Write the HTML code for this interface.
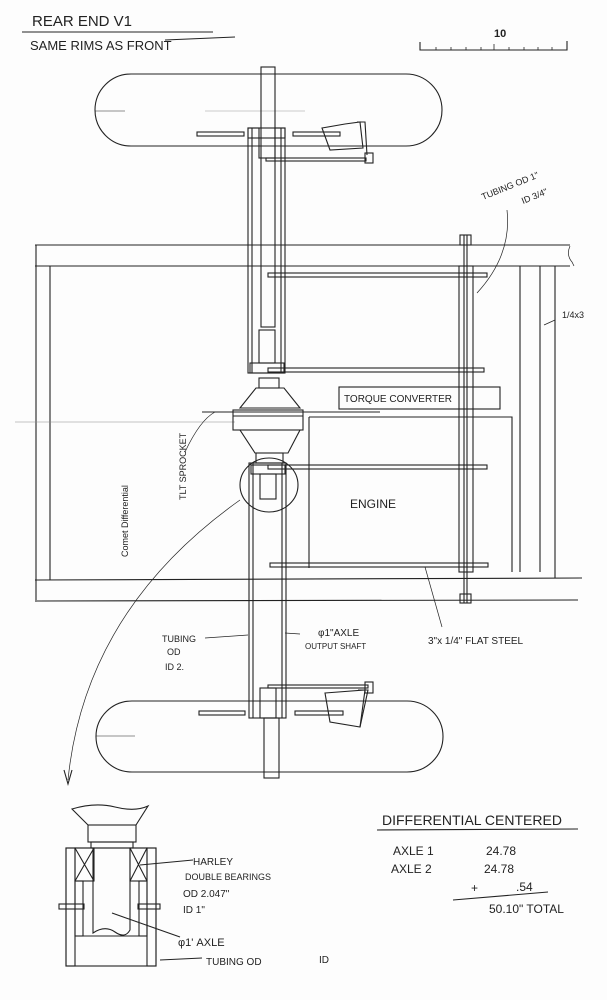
<!DOCTYPE html>
<html><head><meta charset="utf-8"><style>
html,body{margin:0;padding:0;background:#fff}
svg{display:block}
text{font-family:"Liberation Sans",sans-serif;fill:#222}
</style></head><body>
<svg width="607" height="1000" viewBox="0 0 607 1000" xmlns="http://www.w3.org/2000/svg">
<rect width="607" height="1000" fill="#fdfdfd"/>
<g stroke="#222" fill="none" stroke-width="1.1">
<!-- title -->
<line x1="22" y1="32" x2="213" y2="32"/>
<line x1="165" y1="40" x2="235" y2="37"/>
<!-- scale -->
<path d="M420 42 V50 H567 V41"/>
<g stroke-width="0.8"><line x1="436" y1="47" x2="436" y2="50"/><line x1="451" y1="47" x2="451" y2="50"/><line x1="466" y1="47" x2="466" y2="50"/><line x1="481" y1="47" x2="481" y2="50"/><line x1="494" y1="44" x2="494" y2="50"/><line x1="509" y1="47" x2="509" y2="50"/><line x1="524" y1="47" x2="524" y2="50"/><line x1="538" y1="47" x2="538" y2="50"/><line x1="552" y1="47" x2="552" y2="50"/></g>
<!-- top wheel -->
<rect x="95" y="74" width="347" height="72" rx="36"/>
<line x1="95" y1="111" x2="125" y2="111" stroke-width="0.5"/>
<line x1="205" y1="111" x2="305" y2="111" stroke-width="0.5" stroke="#999"/>
<rect x="197" y="132" width="47" height="4"/>
<rect x="293" y="132" width="47" height="4"/>
<path d="M322 128 L345 124 L360 122 L363 148 L330 150 Z"/>
<path d="M357 122 L365 122 L367 155"/>
<rect x="266" y="158" width="100" height="3"/>
<rect x="365" y="153" width="8" height="10"/>
<!-- top axle shaft -->
<rect x="261" y="67" width="14" height="260"/>
<!-- top tube -->
<rect x="248" y="128" width="37" height="245"/>
<line x1="252" y1="128" x2="252" y2="373"/><line x1="281" y1="128" x2="281" y2="373"/>
<rect x="248" y="128" width="11" height="10"/><rect x="275" y="128" width="10" height="10"/>
<rect x="259" y="138" width="16" height="20"/>
<rect x="259" y="330" width="16" height="33"/>
<rect x="250" y="363" width="34" height="10"/>
<!-- frame -->
<line x1="35" y1="245" x2="570" y2="245"/>
<line x1="35" y1="266" x2="570" y2="266"/>
<path d="M570 246 Q566 255 572 262 L574 266" stroke-width="0.7"/>
<line x1="36" y1="245" x2="36" y2="602"/>
<line x1="50" y1="266" x2="50" y2="580"/>
<line x1="35" y1="580" x2="582" y2="578"/>
<line x1="37" y1="601" x2="578" y2="600"/>
<line x1="520" y1="266" x2="520" y2="572"/>
<line x1="540" y1="266" x2="540" y2="572"/>
<line x1="555" y1="266" x2="555" y2="578"/>
<line x1="15" y1="422" x2="235" y2="422" stroke-width="0.5" stroke="#888"/>
<!-- horizontal bars -->
<rect x="268" y="273" width="219" height="4"/>
<rect x="268" y="368" width="216" height="4"/>
<rect x="268" y="465" width="219" height="4"/>
<rect x="270" y="563" width="218" height="4"/>
<!-- vertical tube right -->
<rect x="459" y="266" width="14" height="306"/>
<line x1="464" y1="235" x2="464" y2="603"/><line x1="467" y1="235" x2="467" y2="603"/>
<rect x="460" y="235" width="11" height="10"/><rect x="460" y="594" width="11" height="9"/>
<!-- differential -->
<rect x="259" y="378" width="20" height="10"/>
<path d="M256 388 L284 388 L300 408 L240 408 Z"/>
<rect x="233" y="410" width="70" height="20"/>
<line x1="233" y1="416" x2="303" y2="416"/>
<line x1="202" y1="412" x2="380" y2="412"/>
<path d="M240 430 L300 430 L288 453 L255 453 Z"/>
<rect x="256" y="453" width="27" height="10"/>
<!-- torque converter -->
<rect x="339" y="387" width="161" height="22"/>
<line x1="330" y1="412" x2="380" y2="412"/>
<!-- engine -->
<path d="M309 417 H512 V572"/>
<line x1="309" y1="417" x2="309" y2="568"/>
<!-- bottom tube -->
<rect x="249" y="463" width="37" height="255"/>
<line x1="253" y1="463" x2="253" y2="718"/><line x1="282" y1="463" x2="282" y2="718"/>
<rect x="251" y="465" width="34" height="9"/>
<rect x="260" y="474" width="16" height="25"/>
<rect x="260" y="688" width="16" height="30"/>
<ellipse cx="269" cy="485" rx="29" ry="27"/>
<!-- bottom wheel -->
<rect x="96" y="701" width="347" height="71" rx="36"/>
<line x1="96" y1="736" x2="135" y2="736" stroke-width="0.5"/>
<rect x="199" y="711" width="46" height="4"/>
<rect x="295" y="711" width="48" height="4"/>
<path d="M325 693 L365 690 L360 727 L330 722 Z"/>
<path d="M358 690 L368 690 L360 727"/>
<rect x="268" y="685" width="100" height="3"/>
<rect x="365" y="682" width="8" height="11"/>
<rect x="264" y="718" width="15" height="60"/>
<!-- curve arrow -->
<path d="M240 500 Q85 610 68 780" stroke-width="0.7"/>
<path d="M64 770 L68 784 L72 770"/>
<!-- leaders -->
<path d="M507 210 Q512 255 477 293" stroke-width="0.7"/>
<path d="M544 325 L555 320" stroke-width="0.7"/>
<path d="M185 452 Q200 420 215 412" stroke-width="0.7"/>
<path d="M442 627 L425 567" stroke-width="0.7"/>
<path d="M205 638 L248 635" stroke-width="0.7"/>
<path d="M300 634 L285 633" stroke-width="0.7"/>
<!-- detail -->
<path d="M72 809 Q95 802 115 807 T148 806 L136 825 L88 825 Z"/>
<rect x="88" y="825" width="48" height="17"/>
<rect x="91" y="842" width="42" height="6"/>
<rect x="66" y="848" width="90" height="118"/>
<rect x="66" y="848" width="9" height="118"/><rect x="147" y="848" width="9" height="118"/>
<rect x="75" y="848" width="19" height="33"/><path d="M75 848 L94 881 M94 848 L75 881"/>
<rect x="130" y="848" width="17" height="33"/><path d="M130 848 L147 881 M147 848 L130 881"/>
<rect x="75" y="881" width="8" height="55"/><rect x="139" y="881" width="8" height="55"/>
<line x1="83" y1="936" x2="139" y2="936"/>
<path d="M93 848 V933 Q105 925 115 932 T130 930 V848"/>
<rect x="59" y="904" width="25" height="5"/><rect x="138" y="904" width="22" height="5"/>
<path d="M193 860 L140 865"/><path d="M180 937 L112 913"/><path d="M202 958 L160 960"/>
<line x1="377" y1="830" x2="578" y2="829"/>
<line x1="453" y1="900" x2="548" y2="892"/>
</g>
<g font-size="13">
<text x="32" y="26" font-size="15">REAR END V1</text>
<text x="30" y="50">SAME RIMS AS FRONT</text>
<text x="494" y="37" font-size="11" font-weight="bold">10</text>
<text x="483" y="200" font-size="9" transform="rotate(-22 483 200)">TUBING OD 1"</text>
<text x="523" y="204" font-size="9" transform="rotate(-22 523 204)">ID 3/4"</text>
<text x="562" y="318" font-size="9">1/4x3</text>
<text x="344" y="402" font-size="10">TORQUE CONVERTER</text>
<text x="350" y="508" font-size="12">ENGINE</text>
<text x="128" y="557" font-size="9" transform="rotate(-90 128 557)">Comet Differential</text>
<text x="186" y="500" font-size="9" transform="rotate(-90 186 500)">TLT SPROCKET</text>
<text x="162" y="642" font-size="9">TUBING</text>
<text x="167" y="655" font-size="9">OD</text>
<text x="165" y="670" font-size="9">ID 2.</text>
<text x="318" y="636" font-size="10">φ1"AXLE</text>
<text x="305" y="649" font-size="8">OUTPUT SHAFT</text>
<text x="428" y="644" font-size="10">3"x 1/4" FLAT STEEL</text>
<text x="193" y="865" font-size="10">HARLEY</text>
<text x="185" y="880" font-size="9">DOUBLE BEARINGS</text>
<text x="183" y="897" font-size="10">OD 2.047"</text>
<text x="183" y="913" font-size="10">ID 1"</text>
<text x="178" y="946" font-size="11">φ1' AXLE</text>
<text x="206" y="965" font-size="10">TUBING  OD</text>
<text x="319" y="963" font-size="10">ID</text>
<text x="382" y="825" font-size="14">DIFFERENTIAL CENTERED</text>
<text x="393" y="855" font-size="12">AXLE 1</text>
<text x="486" y="855" font-size="12">24.78</text>
<text x="391" y="873" font-size="12">AXLE 2</text>
<text x="484" y="873" font-size="12">24.78</text>
<text x="471" y="892" font-size="12">+</text>
<text x="516" y="891" font-size="12">.54</text>
<text x="489" y="913" font-size="12">50.10" TOTAL</text>
</g>
</svg>
</body></html>
